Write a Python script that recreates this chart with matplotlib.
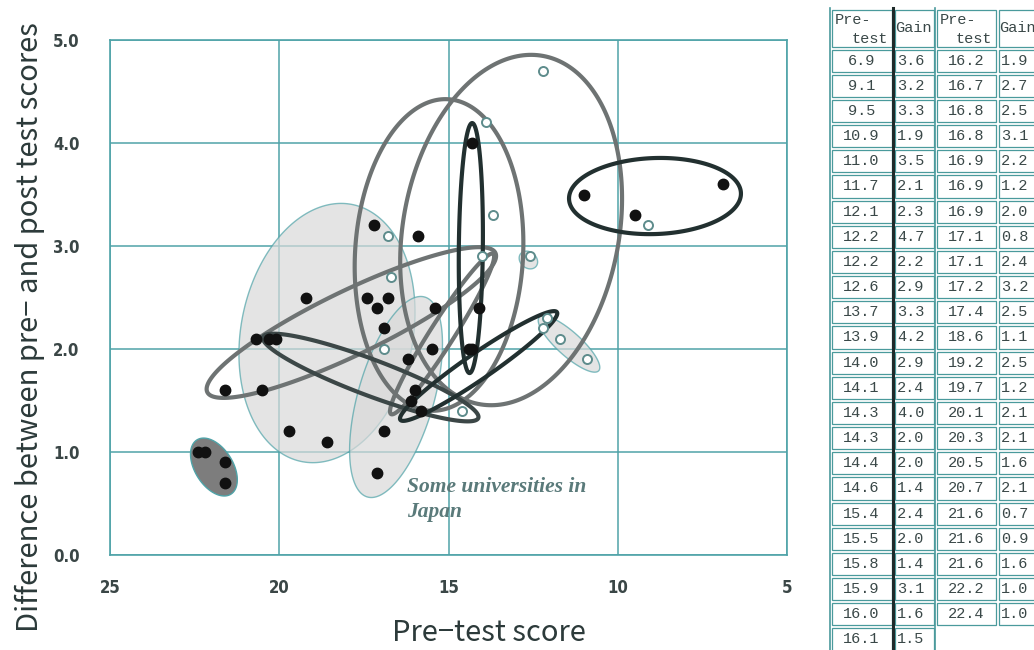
import numpy as np
import matplotlib
matplotlib.use("Agg")
import matplotlib.pyplot as plt
from matplotlib.patches import Polygon, Rectangle

# ---- data: pre-test score and gain (post - pre) ----
pre_col1 = [6.9, 9.1, 9.5, 10.9, 11.0, 11.7, 12.1, 12.2, 12.2, 12.6, 13.7, 13.9,
            14.0, 14.1, 14.3, 14.3, 14.4, 14.6, 15.4, 15.5, 15.8, 15.9, 16.0, 16.1]
gain_col1 = [3.6, 3.2, 3.3, 1.9, 3.5, 2.1, 2.3, 4.7, 2.2, 2.9, 3.3, 4.2,
             2.9, 2.4, 4.0, 2.0, 2.0, 1.4, 2.4, 2.0, 1.4, 3.1, 1.6, 1.5]
pre_col2 = [16.2, 16.7, 16.8, 16.8, 16.9, 16.9, 16.9, 17.1, 17.1, 17.2, 17.4, 18.6,
            19.2, 19.7, 20.1, 20.3, 20.5, 20.7, 21.6, 21.6, 21.6, 22.2, 22.4]
gain_col2 = [1.9, 2.7, 2.5, 3.1, 2.2, 1.2, 2.0, 0.8, 2.4, 3.2, 2.5, 1.1,
             2.5, 1.2, 2.1, 2.1, 1.6, 2.1, 0.7, 0.9, 1.6, 1.0, 1.0]

# groups drawn as hollow circles
hollow_pre = [9.1, 10.9, 11.7, 12.1, 12.2, 12.2, 12.6, 13.7, 13.9, 14.0, 14.6, 16.7, 16.8, 16.9]
hollow_gain = [3.2, 1.9, 2.1, 2.3, 4.7, 2.2, 2.9, 3.3, 4.2, 2.9, 1.4, 2.7, 3.1, 2.0]

x_ticks = [25, 20, 15, 10, 5]
y_ticks = [0.0, 1.0, 2.0, 3.0, 4.0, 5.0]

# ---- figure ----
W, H = 1034, 650
fig = plt.figure(figsize=(W / 100, H / 100), dpi=100)
ax = fig.add_axes([110 / W, 95 / H, 677 / W, 515 / H])
ax.set_xlim(25, 5)
ax.set_ylim(0, 5)

teal = "#4fa3a8"
for s in ax.spines.values():
    s.set_color(teal)
    s.set_linewidth(1.2)
ax.set_xticks(x_ticks)
ax.set_yticks(y_ticks)
ax.grid(True, color=teal, linewidth=1.1)
ax.set_axisbelow(True)
ax.tick_params(length=0, labelcolor="#3a4646")
ax.tick_params(axis="y", pad=22)
ax.tick_params(axis="x", pad=17)
tick_font = dict(family=["DejaVu Sans"], stretch="condensed", weight="bold", size=12)
ax.set_xticklabels([f"{v}" for v in x_ticks], **tick_font)
ax.set_yticklabels([f"{v:.1f}" for v in y_ticks], **tick_font)


def screen_ellipse(cx, cy, a, b, ang, **kw):
    """Ellipse centred on a data point, axes given in screen pixels."""
    t = np.linspace(0, 2 * np.pi, 240)
    th = np.deg2rad(ang)
    dx = a * np.cos(t) * np.cos(th) - b * np.sin(t) * np.sin(th)
    dy = a * np.cos(t) * np.sin(th) + b * np.sin(t) * np.cos(th)
    c = ax.transData.transform((cx, cy))
    pts = ax.transData.inverted().transform(np.column_stack([c[0] + dx, c[1] + dy]))
    ax.add_patch(Polygon(pts, closed=True, **kw))


# shaded groups
shaded = [
    # cx, cy, a, b, angle, face
    (18.59, 2.155, 131, 86, 79, "#d9d9d9"),
    (16.55, 1.534, 104, 38, 74, "#d9d9d9"),
    (12.64, 2.864, 10, 8, -40, "#d9d9d9"),
    (11.44, 2.049, 40, 12, -42, "#d9d9d9"),
]
for cx, cy, a, b, ang, fc in shaded:
    screen_ellipse(cx, cy, a, b, ang, facecolor=fc, alpha=0.7,
                   edgecolor=teal, linewidth=1.0, zorder=1)
screen_ellipse(21.93, 0.854, 32, 19, -58, facecolor="#7d7d7d",
               edgecolor=teal, linewidth=1.0, zorder=1)

# outlined groups
gray = "#6e7373"
dark = "#223030"
mid = "#3c4747"
outlined = [
    (13.15, 3.155, 177, 108, 79.6, gray),
    (15.28, 2.913, 156, 84, 86.7, gray),
    (17.87, 2.257, 160, 32, 25.8, gray),
    (15.19, 2.146, 95, 12, 57.5, gray),
    (17.30, 1.723, 115, 18, -20.6, mid),
    (14.34, 2.980, 125, 12, 89.4, dark),
    (14.11, 1.835, 95, 13, 34.5, dark),
    (8.90, 3.485, 86, 38, 2, dark),
]
for cx, cy, a, b, ang, col in outlined:
    screen_ellipse(cx, cy, a, b, ang, facecolor="none", edgecolor=col,
                   linewidth=3.0, zorder=3)

# points
all_pre = pre_col1 + pre_col2
all_gain = gain_col1 + gain_col2
hollow = set(zip(hollow_pre, hollow_gain))
solid_x = [p for p, g in zip(all_pre, all_gain) if (p, g) not in hollow]
solid_y = [g for p, g in zip(all_pre, all_gain) if (p, g) not in hollow]
ax.plot(solid_x, solid_y, "o", color="#111111", markersize=7.5, zorder=5)
ax.plot(hollow_pre, hollow_gain, "o", markerfacecolor="white",
        markeredgecolor="#5e8c8c", markeredgewidth=1.4, markersize=6.5, zorder=5)

ax.text(0.439, 0.152, "Some universities in\nJapan", transform=ax.transAxes,
        family="Liberation Serif", style="italic", weight="bold", size=15.5,
        color="#5a7a7a", ha="left", va="top", linespacing=1.35)

label_font = dict(family=["Noto Sans CJK JP", "DejaVu Sans"], size=21, color="#2c3a3a")
fig.text(489 / W, 1 - 633 / H, "Pre\u2212test score", ha="center", va="center", **label_font)
fig.text(30 / W, 1 - 327 / H, "Difference between pre\u2212 and post test scores",
         rotation=90, ha="center", va="center", **label_font)

# ---- data table ----
tax = fig.add_axes([826 / W, 0, 220 / W, 1])
tax.set_xlim(826, 1046)
tax.set_ylim(H, 0)
tax.axis("off")
col_edges = [830, 893, 935, 997, 1042]
head_top, head_bot = 8, 48
row_h = 25.17
cell_col = "#4a9a9c"
txt_col = "#3a4848"
mono = dict(family="Liberation Mono", size=11, color=txt_col)


def cell(x0, x1, y0, y1):
    tax.add_patch(Rectangle((x0 + 1.5, y0 + 1.5), x1 - x0 - 3, y1 - y0 - 3,
                            facecolor="white", edgecolor=cell_col, linewidth=0.9))


for c in range(4):
    x0, x1 = col_edges[c], col_edges[c + 1]
    cell(x0, x1, head_top, head_bot)
    if c % 2 == 0:
        tax.text(x0 + 5, head_top + 12, "Pre-", ha="left", va="center", **mono)
        tax.text(x1 - 5, head_top + 31, "test", ha="right", va="center", **mono)
    else:
        tax.text(x0 + 2, head_top + 20, "Gain", ha="left", va="center", **mono)

columns = [pre_col1, gain_col1, pre_col2, gain_col2]
for c, vals in enumerate(columns):
    x0, x1 = col_edges[c], col_edges[c + 1]
    for r, v in enumerate(vals):
        y0 = head_bot + r * row_h
        cell(x0, x1, y0, y0 + row_h)
        tax.text((x0 + x1) / 2 if c % 2 == 0 else x0 + 4, y0 + row_h / 2, f"{v:.1f}",
                 ha="center" if c % 2 == 0 else "left", va="center", **mono)

n_left = len(pre_col1)
tax.plot([893, 893], [head_top, head_bot + n_left * row_h], color="#1e2a2a", lw=2.2)
tax.plot([830, 830], [head_top, head_bot + n_left * row_h], color=cell_col, lw=1.2)
tax.plot([935, 935], [head_top, head_bot + n_left * row_h], color=cell_col, lw=1.2)

fig.savefig("out.png", dpi=100)
